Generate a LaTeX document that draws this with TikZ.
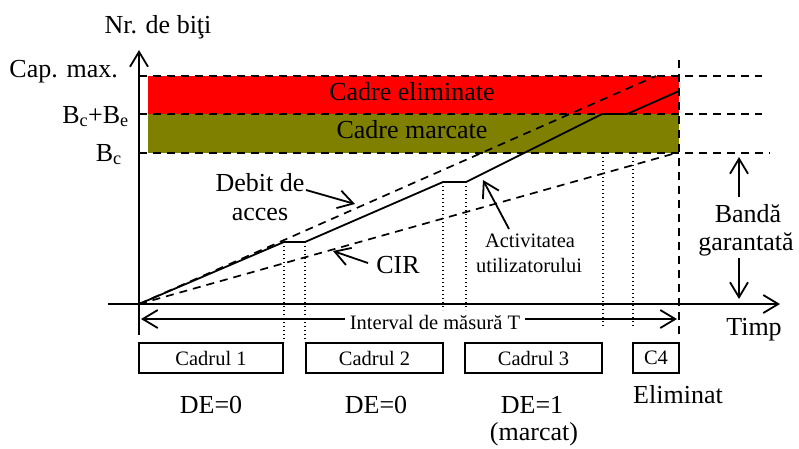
\documentclass[tikz,border=0pt]{standalone}
\usepackage{fontspec}
\setmainfont{Liberation Serif}
\usetikzlibrary{arrows.meta}
\definecolor{bandred}{RGB}{255,0,0}
\definecolor{bandolive}{RGB}{128,128,0}
\tikzset{
  big/.style={font=\fontsize{26}{30}\selectfont, inner sep=0pt},
  small/.style={font=\fontsize{20.5}{24}\selectfont, inner sep=0pt},
  axisline/.style={line width=1.8pt},
  dashline/.style={line width=1.7pt, dash pattern=on 8pt off 6pt},
  dotline/.style={line width=1.3pt, dash pattern=on 1.3pt off 2.7pt},
  barb/.style={-{Straight Barb[length=15pt,width=18pt,line width=1.8pt]}},
  twobarb/.style={{Straight Barb[length=15pt,width=18pt,line width=1.8pt]}-{Straight Barb[length=15pt,width=18pt,line width=1.8pt]}},
  framebox/.style={draw, line width=1.7pt, minimum height=30pt, inner sep=0pt, font=\fontsize{20.5}{24}\selectfont},
}
\begin{document}
\begin{tikzpicture}[x=1pt,y=-1pt]
\useasboundingbox (0,0) rectangle (799,448);

% levels on the vertical axis
\coordinate (O) at (139,304);
\coordinate (ytop) at (139,50);
\coordinate (ybot) at (139,335);
\coordinate (xleft) at (108,304);
\coordinate (xright) at (780,304);

% coloured bands
\fill[bandred] (148,76) rectangle (679,114);
\fill[bandolive] (148,114) rectangle (679,153);
\node[big, anchor=base] (elim) at (412,100) {Cadre eliminate};
\node[big, anchor=base] (marc) at (412,138) {Cadre marcate};

% level lines
\draw[dashline] (139,76) -- (762,76);
\draw[dashline] (139,114) -- (762,114);
\draw[dashline] (139,153) -- (770,153);
\draw[dashline] (679,60) -- (679,336);

% axes
\draw[axisline, barb] (ybot) -- (ytop);
\draw[axisline, barb] (xleft) -- (xright);

% access rate and CIR
\coordinate (accEnd) at (656,76);
\coordinate (cirEnd) at (676,153);
\draw[dashline] (O) -- (accEnd);
\draw[dashline] (O) -- (cirEnd);

% user activity
\coordinate (a1) at (284,242);
\coordinate (a2) at (305,242);
\coordinate (a3) at (443,182);
\coordinate (a4) at (466,182);
\coordinate (a5) at (602,114);
\coordinate (a6) at (627,114);
\coordinate (a7) at (679,91);
\draw[line width=1.8pt, line join=round] (O) -- (a1) -- (a2) -- (a3) -- (a4) -- (a5) -- (a6) -- (a7);

% frame boundaries
\draw[dotline] (a1) -- (284,342);
\draw[dotline] (a2) -- (305,342);
\draw[dotline] (a3) -- (443,310);
\draw[dotline] (a4) -- (466,310);
\draw[dotline] (603,153) -- (603,327);
\draw[dotline] (633,153) -- (633,327);

% measurement interval
\coordinate (tL) at (141,319);
\coordinate (tR) at (677,319);
\draw[axisline, twobarb] (tL) -- (tR);
\node[small, fill=white, inner xsep=5pt, inner ysep=3pt] (interval) at (435,322) {Interval de măsură T};

% axis labels
\node[big, anchor=base] (ylab) at (158,33) {Nr. de biţi};
\node[big, anchor=base east] (capmax) at (118,77) {Cap. max.};
\node[big, anchor=base east] (bcbe) at (129,123) {B\textsubscript{c}+B\textsubscript{e}};
\node[big, anchor=base east] (bc) at (122,161) {B\textsubscript{c}};
\node[big, anchor=base] (timp) at (754,335) {Timp};

% annotations
\node[big, anchor=base] (debit1) at (260,191) {Debit de};
\node[big, anchor=base] (debit2) at (260,220) {acces};
\coordinate (debitFrom) at (306,190);
\coordinate (debitTo) at (355,204);
\draw[axisline, barb] (debitFrom) -- (debitTo);

\node[big, anchor=base] (cir) at (398,273) {CIR};
\coordinate (cirFrom) at (368,263);
\coordinate (cirTo) at (333,251);
\draw[axisline, barb] (cirFrom) -- (cirTo);

\node[small, anchor=base] (act1) at (530,247) {Activitatea};
\node[small, anchor=base] (act2) at (529,272) {utilizatorului};
\coordinate (actFrom) at (509,229);
\coordinate (actTo) at (483,180);
\draw[axisline, barb] (actFrom) -- (actTo);

\node[big, anchor=base] (banda1) at (748,222) {Bandă};
\node[big, anchor=base] (banda2) at (746,250) {garantată};
\coordinate (bUpFrom) at (739,197);
\coordinate (bUpTo) at (739,157);
\coordinate (bDnFrom) at (739,258);
\coordinate (bDnTo) at (739,299);
\draw[axisline, barb] (bUpFrom) -- (bUpTo);
\draw[axisline, barb] (bDnFrom) -- (bDnTo);

% frames
\node[framebox, minimum width=144pt] (c1) at (211,358) {Cadrul 1};
\node[framebox, minimum width=137pt] (c2) at (374.5,358) {Cadrul 2};
\node[framebox, minimum width=137pt] (c3) at (533.5,358) {Cadrul 3};
\node[framebox, minimum width=46pt] (c4) at (656,358) {C4};

\node[big, anchor=base] (de1) at (211,413) {DE=0};
\node[big, anchor=base] (de2) at (376,413) {DE=0};
\node[big, anchor=base] (de3) at (532,413) {DE=1};
\node[big, anchor=base] (de3b) at (534,440) {(marcat)};
\node[big, anchor=base] (elimc4) at (678,403) {Eliminat};
\end{tikzpicture}
\end{document}
